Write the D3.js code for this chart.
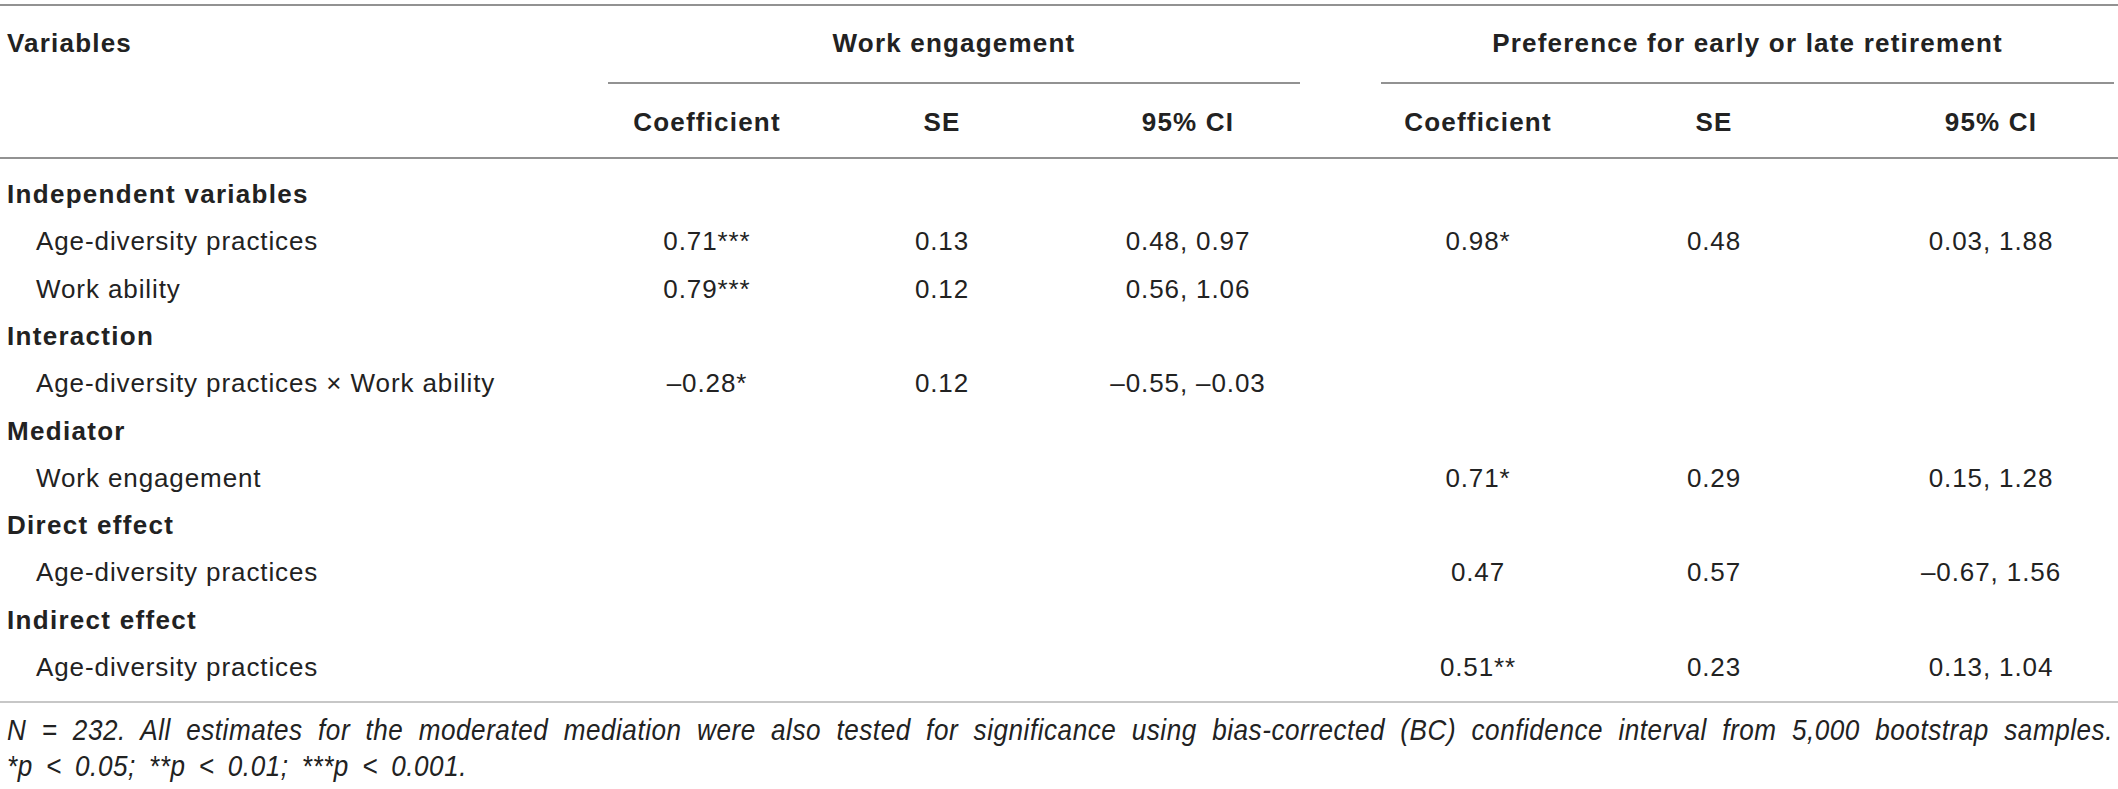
<!DOCTYPE html>
<html>
<head>
<meta charset="utf-8">
<script src="https://cdn.jsdelivr.net/npm/d3@7"></script>
<style>
  body { margin: 0; background: #fff; }
  text { font-family: "Liberation Sans", Arial, sans-serif; }
</style>
</head>
<body>
<script>
var w = 2118;
var h = 789;

// table content
var groups = ["Work engagement", "Preference for early or late retirement"];
var subHeads = ["Coefficient", "SE", "95% CI"];

var rowLabels = ["Independent variables", "Age-diversity practices", "Work ability",
                 "Interaction", "Age-diversity practices \u00d7 Work ability",
                 "Mediator", "Work engagement",
                 "Direct effect", "Age-diversity practices",
                 "Indirect effect", "Age-diversity practices"];
var rowIsSection = [true, false, false, true, false, true, false, true, false, true, false];

var weCoef = ["", "0.71***", "0.79***", "", "\u20130.28*", "", "", "", "", "", ""];
var weSE   = ["", "0.13", "0.12", "", "0.12", "", "", "", "", "", ""];
var weCI   = ["", "0.48, 0.97", "0.56, 1.06", "", "\u20130.55, \u20130.03", "", "", "", "", "", ""];

var prCoef = ["", "0.98*", "", "", "", "", "0.71*", "", "0.47", "", "0.51**"];
var prSE   = ["", "0.48", "", "", "", "", "0.29", "", "0.57", "", "0.23"];
var prCI   = ["", "0.03, 1.88", "", "", "", "", "0.15, 1.28", "", "\u20130.67, 1.56", "", "0.13, 1.04"];

var notes = ["N = 232. All estimates for the moderated mediation were also tested for significance using bias-corrected (BC) confidence interval from 5,000 bootstrap samples.",
             "*p < 0.05; **p < 0.01; ***p < 0.001."];
var noteWidths = [2106, 460];

var columns = [weCoef, weSE, weCI, prCoef, prSE, prCI];

var svg = d3.select("body")
            .append("svg")
            .attr("width", w)
            .attr("height", h);

var xCol = d3.scaleOrdinal()
             .domain(d3.range(6))
             .range([707, 942, 1188, 1478, 1714, 1991]);

var xGroup = d3.scaleOrdinal()
               .domain([0, 1])
               .range([[608, 1300], [1381, 2114]]);

var yRow = d3.scaleLinear()
             .domain([0, rowLabels.length - 1])
             .range([203, 676]);

var ink = "#222";

function rule(y, x1, x2, color) {
  svg.append("line")
     .attr("x1", x1).attr("x2", x2)
     .attr("y1", y).attr("y2", y)
     .attr("stroke", color)
     .attr("stroke-width", 1.6);
}

// rules
rule(5, 0, w, "#6e6e6e");
rule(158, 0, w, "#6e6e6e");
rule(702, 0, w, "#b4b4b4");
groups.forEach(function(g, i) {
  var r = xGroup(i);
  rule(83, r[0], r[1], "#6e6e6e");
});

// header row 1
svg.append("text")
   .attr("x", 7).attr("y", 52)
   .attr("font-size", 26).attr("font-weight", "bold")
   .attr("letter-spacing", 1.2)
   .attr("fill", ink)
   .text("Variables");

svg.selectAll("text.group")
   .data(groups)
   .enter()
   .append("text")
   .attr("class", "group")
   .attr("x", function(d, i) { var r = xGroup(i); return (r[0] + r[1]) / 2; })
   .attr("y", 52)
   .attr("text-anchor", "middle")
   .attr("font-size", 26).attr("font-weight", "bold")
   .attr("letter-spacing", 1.2)
   .attr("fill", ink)
   .text(function(d) { return d; });

// header row 2
svg.selectAll("text.sub")
   .data(d3.range(6))
   .enter()
   .append("text")
   .attr("class", "sub")
   .attr("x", function(d) { return xCol(d); })
   .attr("y", 131)
   .attr("text-anchor", "middle")
   .attr("font-size", 26).attr("font-weight", "bold")
   .attr("letter-spacing", 1.2)
   .attr("fill", ink)
   .text(function(d) { return subHeads[d % 3]; });

// row labels
svg.selectAll("text.label")
   .data(rowLabels)
   .enter()
   .append("text")
   .attr("class", "label")
   .attr("x", function(d, i) { return rowIsSection[i] ? 7 : 36; })
   .attr("y", function(d, i) { return yRow(i); })
   .attr("font-size", 26)
   .attr("font-weight", function(d, i) { return rowIsSection[i] ? "bold" : "normal"; })
   .attr("letter-spacing", function(d, i) { return rowIsSection[i] ? 1.3 : 0.9; })
   .attr("fill", ink)
   .text(function(d) { return d; });

// cells
columns.forEach(function(col, c) {
  svg.selectAll("text.c" + c)
     .data(col)
     .enter()
     .append("text")
     .attr("class", "c" + c)
     .attr("x", xCol(c))
     .attr("y", function(d, i) { return yRow(i); })
     .attr("text-anchor", "middle")
     .attr("font-size", 26)
     .attr("letter-spacing", 0.9)
     .attr("fill", ink)
     .text(function(d) { return d; });
});

// notes: tall italic, spread to width by word spacing
var sx = 0.9;
var noteY = [740, 776];
svg.selectAll("text.note")
   .data(notes)
   .enter()
   .append("text")
   .attr("class", "note")
   .attr("transform", function(d, i) { return "translate(7," + noteY[i] + ") scale(" + sx + ",1)"; })
   .attr("font-size", 29).attr("font-style", "italic")
   .attr("letter-spacing", 0.6)
   .attr("fill", ink)
   .text(function(d) { return d; })
   .each(function(d, i) {
     var len = this.getComputedTextLength();
     var gaps = d.split(" ").length - 1;
     var extra = (noteWidths[i] / sx - len) / gaps;
     d3.select(this).attr("word-spacing", Math.max(0, extra));
   });
</script>
</body>
</html>
